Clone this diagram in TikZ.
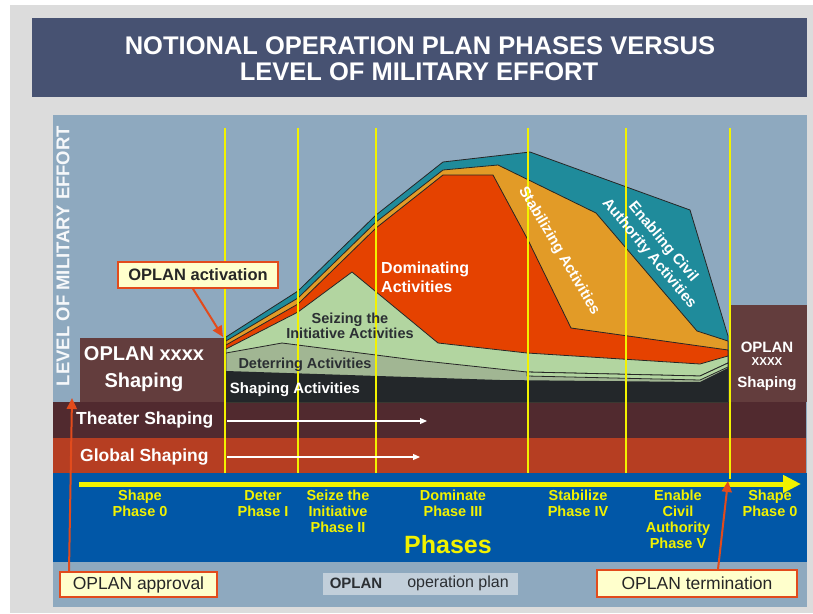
\documentclass[tikz,border=0pt]{standalone}
\usepackage{fontspec}
\setmainfont{Liberation Sans}
\usetikzlibrary{arrows.meta}
\newcommand\myfs[2]{\fontsize{#1}{#2}\selectfont}
\definecolor{bggray}{HTML}{DCDCDC}
\definecolor{titleblue}{HTML}{475272}
\definecolor{panelblue}{HTML}{8EA9BF}
\definecolor{theaterc}{HTML}{512A2F}
\definecolor{globalc}{HTML}{B63E22}
\definecolor{phaseblue}{HTML}{0157A7}
\definecolor{brownbox}{HTML}{633D3D}
\definecolor{tealc}{HTML}{1F8B9B}
\definecolor{stabc}{HTML}{E29B27}
\definecolor{domc}{HTML}{E54200}
\definecolor{seizec}{HTML}{B2D5A0}
\definecolor{deterc}{HTML}{A1B693}
\definecolor{shapec}{HTML}{23272A}
\definecolor{ylw}{HTML}{F2F200}
\definecolor{callfill}{HTML}{FFFFCC}
\definecolor{callred}{HTML}{E24B1C}
\definecolor{legendc}{HTML}{C2CFDA}
\definecolor{darktext}{HTML}{2B2F33}
\begin{document}
\begin{tikzpicture}[x=1pt,y=-1pt,
  lay/.style={draw=black!85, line width=0.8pt, line join=round},
  ylwline/.style={draw=ylw, line width=1.4pt},
  redarrow/.style={draw=callred, line width=2pt, -{Triangle[length=11pt,width=10pt]}},
  whitearrow/.style={draw=white, line width=1.2pt, -{Triangle[length=7pt,width=6pt]}},
  callout/.style={draw=callred, line width=1.8pt, fill=callfill, inner sep=0pt, text=black!85},
  phaselbl/.style={text=ylw, font=\bfseries\myfs{14.5}{16}, align=center, anchor=north, inner sep=0pt},
  wlbl/.style={text=white, font=\bfseries\myfs{15}{19}, inner sep=0pt},
  dlbl/.style={text=darktext, font=\bfseries\myfs{14.5}{15}, inner sep=0pt}
]
\useasboundingbox (0,0) rectangle (813,613);
\fill[white] (0,0) rectangle (813,613);
\fill[bggray] (10,5) rectangle (813,613);

% title
\node[fill=titleblue, minimum width=775pt, minimum height=79pt, inner sep=0pt] (titlebox) at (419.5,57.5) {};
\node[text=white, font=\bfseries\myfs{25.5}{26}, anchor=base, inner sep=0pt] (title1) at (420,54) {NOTIONAL OPERATION PLAN PHASES VERSUS};
\node[text=white, font=\bfseries\myfs{25.5}{26}, anchor=base, inner sep=0pt] (title2) at (419,80) {LEVEL OF MILITARY EFFORT};

% panel and bands
\fill[panelblue] (53,115) rectangle (807,607);
\fill[theaterc] (53,402) rectangle (806,438);
\fill[globalc] (53,438) rectangle (806,473);
\fill[phaseblue] (53,473) rectangle (807,562);

% mountain layers
\draw[lay, fill=tealc] (226,337) -- (298,291) -- (376,215) -- (443,162) -- (530,152) -- (690,210) -- (728,336) -- (728,402) -- (226,402) -- cycle;
\draw[lay, fill=stabc] (226,341) -- (298,298) -- (376,222) -- (443,170) -- (498,165) -- (596,213) -- (697,331) -- (728,341) -- (728,402) -- (226,402) -- cycle;
\draw[lay, fill=domc] (226,345) -- (298,304) -- (376,228) -- (443,175) -- (493,175) -- (528,240) -- (571,328) -- (728,350) -- (728,402) -- (226,402) -- cycle;
\draw[lay, fill=seizec] (226,349) -- (298,312) -- (352,272) -- (438,343) -- (527,353) -- (700,364) -- (728,356) -- (728,402) -- (226,402) -- cycle;
\draw[lay, fill=deterc] (226,353) -- (282,343) -- (415,360) -- (527,372) -- (700,376) -- (728,363) -- (728,402) -- (226,402) -- cycle;
\draw[lay, fill=seizec] (527,372) -- (700,376) -- (728,363) -- (728,367) -- (700,380) -- (527,376) -- cycle;
\fill[shapec] (226,371) -- (500,380) -- (700,382) -- (728,368) -- (728,402) -- (226,402) -- cycle;

% side boxes
\fill[brownbox] (80,338) rectangle (226,402);
\fill[brownbox] (730,305) rectangle (807,402);
\node[text=white, font=\bfseries\myfs{20}{27}, align=center, inner sep=0pt] (lbox) at (144,369) {OPLAN xxxx\\Shaping};
\node[text=white, font=\bfseries\myfs{15}{15}, inner sep=0pt] (rOplan) at (767,347) {OPLAN};
\node[text=white, font=\bfseries\myfs{11.5}{12}, inner sep=0pt] (rX) at (767,362) {XXXX};
\node[text=white, font=\bfseries\myfs{15}{15}, inner sep=0pt] (rShaping) at (767,384) {Shaping};

% axis label
\node[text=white!92!panelblue, font=\bfseries\myfs{18.5}{19}, rotate=90, inner sep=0pt] (axis) at (63,256) {LEVEL OF MILITARY EFFORT};

% vertical yellow lines
\foreach \xx in {225,298,376,528,626} {\draw[ylwline] (\xx,128) -- (\xx,473);}
\draw[ylwline] (730,128) -- (730,479);

% mountain labels
\node[wlbl, align=left, anchor=north west, font=\bfseries\myfs{16}{19}] (dom) at (381,262) {Dominating\\Activities};
\node[dlbl, align=center] (seize) at (350,326) {Seizing the\\Initiative Activities};
\node[dlbl] (deter) at (305,365) {Deterring Activities};
\node[wlbl] (shapeact) at (295,390) {Shaping Activities};
\node[wlbl, rotate=-59.5] (stab) at (559,251) {Stabilizing Activities};
\node[wlbl, align=center, rotate=-50, font=\bfseries\myfs{15}{18}] (enab) at (656,248) {Enabling Civil\\Authority Activities};

% shaping bands
\node[text=white, font=\bfseries\myfs{17.5}{18}, anchor=west, inner sep=0pt] (theater) at (76,420) {Theater Shaping};
\node[text=white, font=\bfseries\myfs{17.5}{18}, anchor=west, inner sep=0pt] (global) at (80,457) {Global Shaping};
\coordinate (thS) at (227,421);
\coordinate (thE) at (427,421);
\coordinate (glS) at (227,457);
\coordinate (glE) at (420,457);
\draw[whitearrow] (thS) -- (thE);
\draw[whitearrow] (glS) -- (glE);

% phases arrow
\coordinate (paS) at (79,484);
\coordinate (paE) at (801,484);
\draw[draw=ylw, line width=5pt, -{Triangle[length=18pt,width=17pt]}] (paS) -- (paE);

% phase labels
\node[phaselbl] (p0a) at (140,490) {Shape\\Phase 0};
\node[phaselbl] (p1) at (263,490) {Deter\\Phase I};
\node[phaselbl] (p2) at (338,490) {Seize the\\Initiative\\Phase II};
\node[phaselbl] (p3) at (453,490) {Dominate\\Phase III};
\node[phaselbl] (p4) at (578,490) {Stabilize\\Phase IV};
\node[phaselbl] (p5) at (678,490) {Enable\\Civil\\Authority\\Phase V};
\node[phaselbl] (p0b) at (770,490) {Shape\\Phase 0};
\node[text=ylw, font=\bfseries\myfs{25}{26}, inner sep=0pt] (phases) at (448,545) {Phases};

% legend
\node[fill=legendc, minimum width=195pt, minimum height=22pt, inner sep=0pt] (legend) at (420.5,584) {};
\node[text=darktext, font=\bfseries\myfs{15}{16}, inner sep=0pt] (legA) at (356,583) {OPLAN};
\node[text=darktext, font=\myfs{16}{16}, inner sep=0pt] (legB) at (458,583) {operation plan};

% callouts
\node[callout, minimum width=160pt, minimum height=26pt, font=\bfseries\myfs{16.5}{17}] (act) at (198,275) {OPLAN activation};
\node[callout, minimum width=157pt, minimum height=25pt, font=\myfs{17.5}{18}] (appr) at (138.5,584.5) {OPLAN approval};
\node[callout, minimum width=200pt, minimum height=27pt, font=\myfs{17.5}{18}] (term) at (697,583.5) {OPLAN termination};
\coordinate (actTip) at (223,337);
\coordinate (apprTip) at (72,398);
\coordinate (termTip) at (728,481);
\draw[redarrow] ([xshift=-5pt]act.south) -- (actTip);
\draw[redarrow] ([xshift=-69.5pt]appr.north) -- (apprTip);
\draw[redarrow] ([xshift=21pt]term.north) -- (termTip);
\end{tikzpicture}
\end{document}
